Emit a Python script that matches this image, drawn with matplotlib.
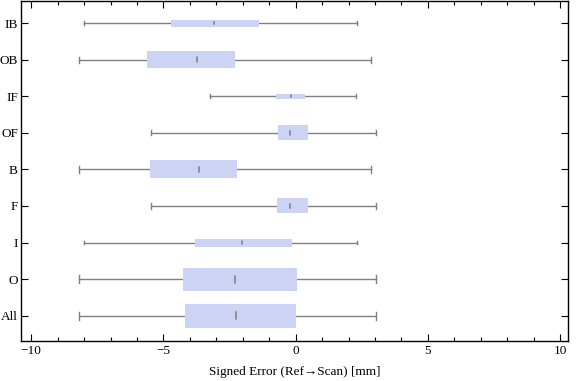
import numpy as np
import matplotlib.pyplot as plt

plt.rcParams['font.family'] = ['Liberation Serif', 'DejaVu Serif']

# categories from bottom to top
labels = ["All", "O", "I", "F", "B", "OF", "IF", "OB", "IB"]
wlo = [-8.21, -8.21, -8.02, -5.47, -8.21, -5.47, -3.24, -8.21, -8.02]
q1 = [-4.19, -4.27, -3.82, -0.69, -5.51, -0.65, -0.73, -5.62, -4.72]
med = [-2.24, -2.28, -2.03, -0.20, -3.64, -0.21, -0.19, -3.73, -3.10]
q3 = [0.03, 0.05, -0.12, 0.48, -2.23, 0.48, 0.37, -2.31, -1.40]
whi = [3.05, 3.05, 2.31, 3.03, 2.86, 3.03, 2.27, 2.86, 2.31]
# box thickness (grows with sample size)
thick = [0.66, 0.63, 0.22, 0.41, 0.49, 0.41, 0.14, 0.46, 0.19]

fig, ax = plt.subplots(figsize=(5.76, 3.81), dpi=100)
fig.subplots_adjust(left=0.036, right=0.986, top=0.997, bottom=0.106)

wcol = '#808080'
bcol = '#ccd3f5'
for i in range(len(labels)):
    y = i + 1
    h = thick[i]
    ax.plot([wlo[i], whi[i]], [y, y], color=wcol, lw=1, zorder=1)
    cap = max(0.35 * h, 0.1)
    ax.plot([wlo[i], wlo[i]], [y - cap / 2, y + cap / 2], color=wcol, lw=1, zorder=1)
    ax.plot([whi[i], whi[i]], [y - cap / 2, y + cap / 2], color=wcol, lw=1, zorder=1)
    ax.barh(y, q3[i] - q1[i], left=q1[i], height=h, color=bcol, edgecolor='none', zorder=2)
    mh = max(0.3 * h, 0.05)
    ax.plot([med[i], med[i]], [y - mh / 2, y + mh / 2], color='#8a8a8a', lw=1.3,
            solid_capstyle='round', zorder=3)

ax.set_xlim(-10.4, 10.3)
ax.set_ylim(0.32, 9.6)
ax.set_xticks([-10, -5, 0, 5, 10])
ax.set_xticklabels(['\u221210', '\u22125', '0', '5', '10'])
ax.set_xticks(np.arange(-10, 11, 1), minor=True)
ax.set_yticks(np.arange(1, len(labels) + 1))
ax.set_yticklabels(labels)
ax.tick_params(which='both', direction='in', top=True, right=True, labelsize=9.5, width=0.8)
ax.tick_params(which='major', length=5)
ax.tick_params(which='minor', length=3)
ax.tick_params(axis='y', pad=2)
for s in ax.spines.values():
    s.set_linewidth(1)
ax.set_xlabel('Signed Error (Ref\u2192Scan) [mm]', fontsize=9.5, labelpad=6)

fig.savefig('out.png', dpi=100)
